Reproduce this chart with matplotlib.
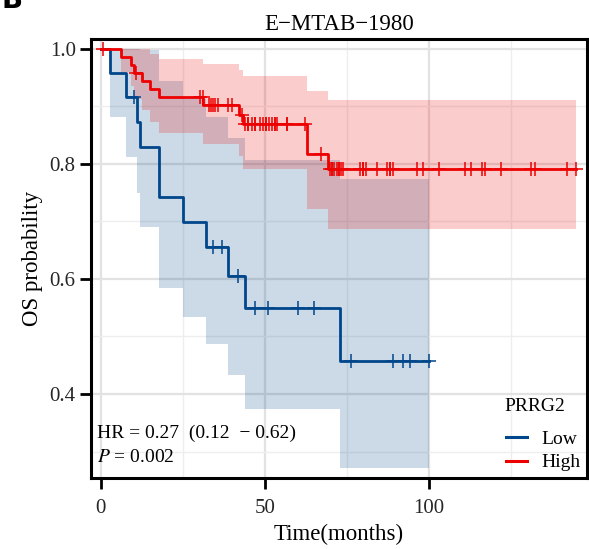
import numpy as np
import matplotlib
matplotlib.use("Agg")
import matplotlib.pyplot as plt
from matplotlib.lines import Line2D

plt.rcParams['font.family'] = ['Liberation Serif', 'DejaVu Serif']
plt.rcParams['mathtext.fontset'] = 'stix'

# PRRG2 low group (months): deaths and censored follow-up
low_death = [2.7, 7.8, 10.9, 11.9, 17.8, 17.8, 24.9, 32.0, 38.8, 43.9, 73.0]
low_cens = [10.0, 34.3, 36.8, 41.9, 47.0, 51.0, 60.1, 65.0, 76.1, 89.0, 92.1, 94.1, 100.0]

# PRRG2 high group (months)
high_death = [6.0, 9.1, 10.0, 12.4, 14.9, 17.7, 31.2, 42.2, 43.2, 62.9, 62.9, 69.3]
high_cens = [0.7, 10.6, 30.1, 31.1, 32.8, 33.5, 34.1, 34.8, 35.8, 38.8, 39.9, 42.9,
             43.9, 44.9, 44.9, 46.0, 47.0, 47.0, 48.5, 49.5, 50.3, 50.3, 51.2, 52.0,
             53.0, 53.0, 53.7, 56.8, 56.8, 62.2, 67.0,
             69.8, 70.5, 70.5, 71.1, 71.8, 72.5, 72.5, 73.3, 73.8, 79.1, 79.9, 79.9,
             80.7, 84.0, 87.2, 88.0, 88.0, 89.0, 96.2, 98.0, 103.0, 111.1, 112.9,
             116.1, 117.0, 122.0, 131.2, 132.2, 142.1, 144.9]

groups = ['Low', 'High']
colors = ['#00468B', '#ED0000']
hr_text = 'HR = 0.27  (0.12  \u2212 0.62)'
p_text = '0.002'


def km(death, cens):
    # Kaplan-Meier with log-type Greenwood CI (survfit default)
    t = np.array(death + cens)
    e = np.array([1] * len(death) + [0] * len(cens))
    times = np.unique(t)
    s, var = 1.0, 0.0
    surv, lo, hi = [1.0], [1.0], [1.0]
    for u in times:
        n = (t >= u).sum()
        d = ((t == u) & (e == 1)).sum()
        if d:
            s *= 1 - d / n
            if n > d:
                var += d / (n * (n - d))
        se = np.sqrt(var)
        surv.append(s)
        lo.append(s * np.exp(-1.96 * se))
        hi.append(min(1.0, s * np.exp(1.96 * se)))
    return np.r_[0, times], np.array(surv), np.array(lo), np.array(hi)


fig = plt.figure(figsize=(5.89, 5.49), dpi=100)
ax = fig.add_axes([0.1545, 0.1293, 0.842, 0.80])

for death, cens, col in [(low_death, low_cens, colors[0]), (high_death, high_cens, colors[1])]:
    x, s, lo, hi = km(death, cens)
    ax.fill_between(x, lo, hi, step='post', color=col, alpha=0.2, lw=0, zorder=2)

for death, cens, col in [(low_death, low_cens, colors[0]), (high_death, high_cens, colors[1])]:
    x, s, lo, hi = km(death, cens)
    ax.step(x, s, where='post', color=col, lw=2.0, zorder=3)
    cy = [s[np.searchsorted(x, c)] for c in cens]
    ax.plot(cens, cy, ls='none', marker='+', ms=9.5, mew=1.1, color=col, zorder=4)

ax.set_xlim(-3.0, 148.1)
ax.set_ylim(0.254, 1.017)
ax.set_xticks([0, 50, 100])
ax.set_yticks([0.4, 0.6, 0.8, 1.0])
ax.set_yticklabels(['0.4', '0.6', '0.8', '1.0'])
ax.set_xticks([25, 75, 125], minor=True)
ax.set_yticks([0.3, 0.5, 0.7, 0.9], minor=True)
ax.grid(which='major', color='#E2E2E2', lw=1.6, zorder=0)
ax.grid(which='minor', color='#EEEEEE', lw=1.0, zorder=0)
ax.set_axisbelow(True)
ax.tick_params(which='major', length=8, width=2, color='black', labelsize=15,
               labelcolor='#262626')
ax.tick_params(axis='x', pad=7)
ax.tick_params(axis='y', pad=3)
ax.tick_params(which='minor', length=0)
for sp in ax.spines.values():
    sp.set_linewidth(2.2)
    sp.set_color('black')

ax.set_title('E\u2212MTAB\u22121980', fontsize=16.5, pad=6)
ax.set_xlabel('Time(months)', fontsize=16.5, labelpad=4)
ax.set_ylabel('OS probability', fontsize=16.5, labelpad=5)

ax.text(0.012, 0.1025, hr_text, transform=ax.transAxes, fontsize=14, va='center')
ax.text(0.012, 0.0456, '$\\mathit{P}$ = ' + p_text, transform=ax.transAxes,
        fontsize=14, va='center')

handles = [Line2D([], [], color=c, lw=2.2) for c in colors]
leg = ax.legend(handles, groups, loc='lower right',
                bbox_to_anchor=(1.022, -0.025), frameon=False, fontsize=14,
                handlelength=1.05, handletextpad=0.75, labelspacing=0.3)
ax.text(0.834, 0.162, 'PRRG2', transform=ax.transAxes, fontsize=14, va='center')

fig.text(0.003, 0.985, 'B', fontsize=20, fontweight='bold', family='DejaVu Sans',
         va='baseline')

fig.savefig('out.png', dpi=100)
